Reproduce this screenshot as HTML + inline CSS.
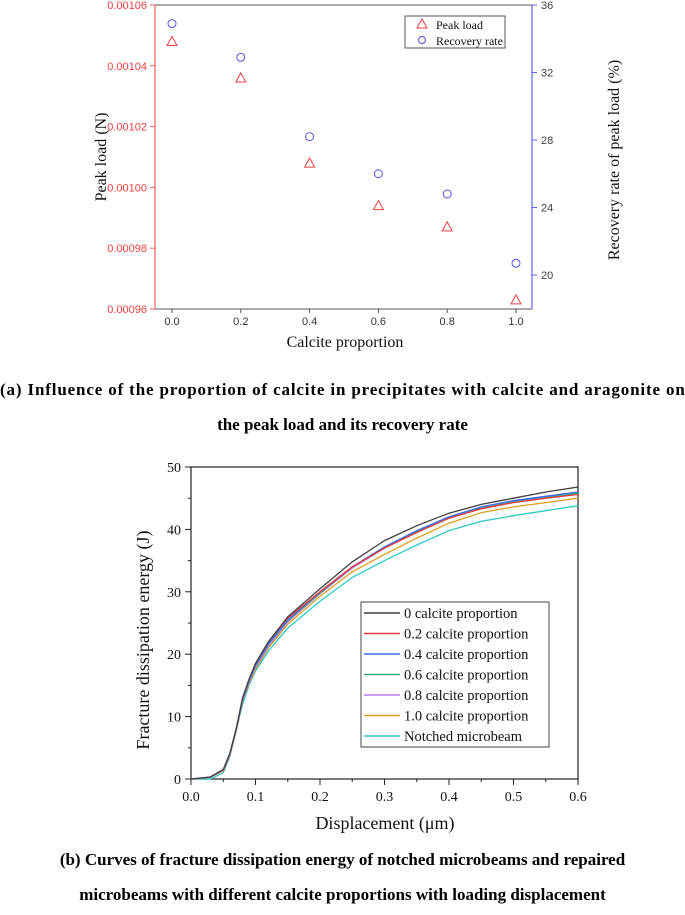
<!DOCTYPE html>
<html><head><meta charset="utf-8"><style>
body{margin:0;background:#fff;width:685px;height:915px;overflow:hidden;font-family:"Liberation Serif",serif}
svg{position:absolute;left:0;top:0}
.cap{position:absolute;left:0;width:685px;text-align:center;font-weight:bold;font-size:17px;font-family:"Liberation Serif",serif;white-space:nowrap}
</style></head><body>
<svg id="chart" width="685" height="915"></svg>
<div class="cap" style="top:380px;letter-spacing:0.85px">(a) Influence of the proportion of calcite in precipitates with calcite and aragonite on</div>
<div class="cap" style="top:415px">the peak load and its recovery rate</div>
<div class="cap" style="top:850px">(b) Curves of fracture dissipation energy of notched microbeams and repaired</div>
<div class="cap" style="top:885px">microbeams with different calcite proportions with loading displacement</div>
<script>
// Chart (a) data
const propA = [0, 0.2, 0.4, 0.6, 0.8, 1.0];
const peakLoad = [0.001048, 0.001036, 0.001008, 0.000994, 0.000987, 0.000963];
const recovery = [34.9, 32.9, 28.2, 26.0, 24.8, 20.7];
const leftTicks = ["0.00096","0.00098","0.00100","0.00102","0.00104","0.00106"];
const rightTicks = [20, 24, 28, 32, 36];
const xTicksA = ["0.0","0.2","0.4","0.6","0.8","1.0"];
// Chart (b) data
const disp = [0,0.03,0.05,0.06,0.07,0.08,0.09,0.1,0.12,0.15,0.2,0.25,0.3,0.35,0.4,0.45,0.5,0.55,0.6];
const e0  = [0,0.3,1.5,4,8,13,16,18.5,22,26,30.5,34.8,38.2,40.6,42.6,44,45,46,46.8];
const e02 = [0,0.3,1.5,4,8,13,16,18.5,22,25.8,30,34,37,39.5,41.8,43.3,44.3,45,45.6];
const e04 = [0,0.3,1.5,4,8,12.8,15.8,18.2,21.7,25.5,30,34,37.2,39.8,42,43.6,44.6,45.3,46];
const e06 = [0,0.3,1.5,4,8,12.8,15.8,18.2,21.6,25.4,29.8,34,37,39.6,41.8,43.4,44.4,45.1,45.8];
const e08 = [0,0.3,1.4,3.8,7.8,12.6,15.5,17.9,21.3,25.2,29.7,33.8,37,39.7,42,43.6,44.6,45.3,46];
const e10 = [0,0.3,1.3,3.7,7.8,12.5,15.3,17.6,21,24.8,29.3,33.2,36,38.6,41,42.7,43.6,44.3,45];
const eN  = [0,0,1,3.5,7.8,12,15,17.3,20.5,24.2,28.5,32.3,35,37.5,39.8,41.3,42.2,43,43.8];
const series = [e0,e02,e04,e06,e08,e10,eN];
const seriesNames = ["0 calcite proportion","0.2 calcite proportion","0.4 calcite proportion","0.6 calcite proportion","0.8 calcite proportion","1.0 calcite proportion","Notched microbeam"];
const seriesColors = ["#404040","#e8383d","#3a6fe8","#3aa876","#b77ef0","#d9a020","#2ec8c8"];
const xTicksB = ["0.0","0.1","0.2","0.3","0.4","0.5","0.6"];
const yTicksB = [0,10,20,30,40,50];

const svg = document.getElementById('chart');
const NS = 'http://www.w3.org/2000/svg';
function mk(tag, attrs, parent, text){const e=document.createElementNS(NS,tag);for(const k in attrs)e.setAttribute(k,attrs[k]);if(text!==undefined)e.textContent=text;(parent||svg).appendChild(e);return e;}

// ---- Chart A ----
const xA = v => 172 + v*(516-172);
const yL = v => 309 - (v-0.00096)/0.0001*(309-5);
const yR = v => 275 - (v-20)*(270/16);
let g = mk('g',{});


let e;
e=mk('line',{x1:155,y1:5,x2:532,y2:5,stroke:'#555','stroke-width':1},g);
e=mk('line',{x1:155,y1:309,x2:532,y2:309,stroke:'#555','stroke-width':1},g);
e=mk('line',{x1:155,y1:5,x2:155,y2:309,stroke:'#f06060','stroke-width':1.2},g);

e=mk('line',{x1:532,y1:5,x2:532,y2:309,stroke:'#6060f0','stroke-width':1.2},g);

leftTicks.forEach(t=>{const y=yL(parseFloat(t));mk('line',{x1:150,y1:y,x2:155,y2:y,stroke:'#f06060'},g);
 const tx=mk('text',{x:147,y:y+4,'text-anchor':'end','font-size':11,fill:'#f04040','font-family':'Liberation Sans,sans-serif'},g,t);
 });
rightTicks.forEach(t=>{const y=yR(t);mk('line',{x1:532,y1:y,x2:537,y2:y,stroke:'#6060f0'},g);
 const tx=mk('text',{x:541,y:y+4,'font-size':11,fill:'#404040','font-family':'Liberation Sans,sans-serif'},g,String(t));
 });
xTicksA.forEach(t=>{const x=xA(parseFloat(t));mk('line',{x1:x,y1:309,x2:x,y2:313,stroke:'#555'},g);
 const tx=mk('text',{x:x,y:325,'text-anchor':'middle','font-size':11,fill:'#333','font-family':'Liberation Sans,sans-serif'},g,t);
 });
e=mk('text',{x:345,y:347,'text-anchor':'middle','font-size':16,fill:'#111'},g,'Calcite proportion');

e=mk('text',{x:0,y:0,transform:'translate(106,157) rotate(-90)','text-anchor':'middle','font-size':16,fill:'#111'},g,'Peak load (N)');

e=mk('text',{x:0,y:0,transform:'translate(619,160) rotate(-90)','text-anchor':'middle','font-size':16,fill:'#111'},g,'Recovery rate of peak load (%)');

function tri(x,y,c,p){return mk('path',{d:`M${x},${y-5}L${x+5},${y+4}L${x-5},${y+4}Z`,fill:'none',stroke:c,'stroke-width':1},p);}
propA.forEach((p,i)=>{const t=tri(xA(p),yL(peakLoad[i]),'#f04040',g);
 
 
 const c=mk('circle',{cx:xA(p),cy:yR(recovery[i]),r:4,fill:'none',stroke:'#5050f0','stroke-width':1},g);
 
 });
let lg=mk('g',{},g);


mk('rect',{x:405,y:16,width:100,height:32,fill:'#fff',stroke:'#555'},lg);
tri(422,24,'#f04040',lg);
mk('text',{x:436,y:29,'font-size':12,fill:'#111'},lg,'Peak load');
mk('circle',{cx:422,cy:40,r:3.5,fill:'none',stroke:'#5050f0'},lg);
mk('text',{x:436,y:45,'font-size':12,fill:'#111'},lg,'Recovery rate');

// ---- Chart B ----
const xB = v => 191 + v/0.6*(578-191);
const yB = v => 779 - v/50*(779-467);
let gb = mk('g',{});


mk('rect',{x:191,y:467,width:387,height:312,fill:'none',stroke:'#222','stroke-width':1.2},gb);
xTicksB.forEach((t,i)=>{const x=xB(parseFloat(t));mk('line',{x1:x,y1:779,x2:x,y2:785,stroke:'#222'},gb);
 if(i<6)mk('line',{x1:x+32.25,y1:779,x2:x+32.25,y2:782,stroke:'#222'},gb);
 const tx=mk('text',{x:x,y:801,'text-anchor':'middle','font-size':14,fill:'#111'},gb,t);
 });
yTicksB.forEach((t,i)=>{const y=yB(t);mk('line',{x1:185,y1:y,x2:191,y2:y,stroke:'#222'},gb);
 if(i<5)mk('line',{x1:188,y1:y-31.2,x2:191,y2:y-31.2,stroke:'#222'},gb);
 const tx=mk('text',{x:181,y:y+5,'text-anchor':'end','font-size':14,fill:'#111'},gb,String(t));
 });
e=mk('text',{x:385,y:829,'text-anchor':'middle','font-size':18,fill:'#111'},gb,'Displacement (μm)');

e=mk('text',{x:0,y:0,transform:'translate(149,640) rotate(-90)','text-anchor':'middle','font-size':18,fill:'#111'},gb,'Fracture dissipation energy (J)');

for(let s=series.length-1;s>=0;s--){const d=disp.map((x,i)=>(i?'L':'M')+xB(x).toFixed(1)+','+yB(series[s][i]).toFixed(1)).join('');
 const p=mk('path',{d:d,fill:'none',stroke:seriesColors[s],'stroke-width':1.3},gb);
 
 }
let lb=mk('g',{},gb);


mk('rect',{x:361,y:602,width:188,height:145,fill:'#fff',stroke:'#444'},lb);
seriesNames.forEach((n,i)=>{const y=613+i*20.5;
 mk('line',{x1:364,y1:y,x2:400,y2:y,stroke:seriesColors[i],'stroke-width':1.5},lb);
 const t=mk('text',{x:404,y:y+5,'font-size':14.5,fill:'#111'},lb,n);
 });
</script>
</body></html>
